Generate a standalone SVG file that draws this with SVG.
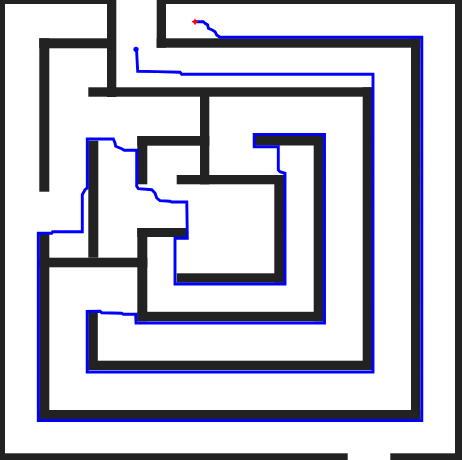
<svg xmlns="http://www.w3.org/2000/svg" width="462" height="460" viewBox="0 0 462 460">
<style>
.w{fill:#222222}
.p{fill:none;stroke:#0000ff;stroke-width:2.9;stroke-linejoin:miter}
</style>
<rect x="0" y="0" width="462" height="460" fill="#ffffff"/>
<g id="walls">
<!-- outer border -->
<rect class="w" x="0" y="0" width="5" height="460"/>
<rect class="w" x="0" y="0" width="116" height="4"/>
<rect class="w" x="157" y="0" width="305" height="4"/>
<rect class="w" x="455" y="0" width="7" height="460"/>
<rect class="w" x="0" y="453.3" width="347.7" height="6.7"/>
<rect class="w" x="390.3" y="453.3" width="71.7" height="6.7"/>
<!-- top-left L and entrance wall -->
<rect class="w" x="107" y="0" width="9.3" height="97"/>
<rect class="w" x="39.3" y="38.3" width="67.7" height="10"/>
<rect class="w" x="39.3" y="38.3" width="10" height="153.4"/>
<!-- big outer U -->
<rect class="w" x="156.7" y="0" width="9.3" height="47.7"/>
<rect class="w" x="156.7" y="38.3" width="263.6" height="9.4"/>
<rect class="w" x="411" y="38.3" width="9.3" height="381"/>
<rect class="w" x="39.3" y="410" width="381" height="9.3"/>
<rect class="w" x="39.3" y="233.3" width="10" height="186"/>
<!-- second U -->
<rect class="w" x="88.3" y="87.3" width="283.4" height="9.4"/>
<rect class="w" x="362.7" y="87.3" width="9.3" height="282.7"/>
<rect class="w" x="88.3" y="360.7" width="283.4" height="9.3"/>
<rect class="w" x="88.3" y="312.5" width="9.5" height="57.5"/>
<!-- left middle -->
<rect class="w" x="88.3" y="140.7" width="10" height="117"/>
<rect class="w" x="39.3" y="257.7" width="108" height="9.6"/>
<!-- inner upper structure -->
<rect class="w" x="137.3" y="136" width="10" height="48.3"/>
<rect class="w" x="137.3" y="136" width="72" height="9.7"/>
<rect class="w" x="200" y="96" width="9.3" height="88.3"/>
<rect class="w" x="176.7" y="175" width="107.6" height="9.3"/>
<rect class="w" x="274.3" y="175" width="10" height="107.7"/>
<rect class="w" x="176.7" y="273.3" width="107.6" height="9.4"/>
<!-- inner lower structure -->
<rect class="w" x="137.3" y="228" width="49.4" height="9"/>
<rect class="w" x="137.3" y="228" width="10" height="93.3"/>
<rect class="w" x="137.3" y="311.8" width="186" height="9.5"/>
<rect class="w" x="313.7" y="135" width="9.6" height="186.3"/>
<rect class="w" x="254.3" y="135" width="69" height="10.5"/>
</g>
<g id="path">
<polyline class="p" points="136.5,49 137.7,71.3 156.7,71.6 180,72.3 181.7,74.3 373,74.3 373,372 87.2,372 87.2,311.5 100,311.2 101.7,312.7 121.7,313.3 123.3,314.3 135.7,314.3 136,323 324.5,323 324.5,134.4 254.2,134.4 254.2,146.7 278.3,146.7 278.3,170 280,171.7 285,173.3 285,284 175,284 175,238.3 187.3,238.3 186.8,202 171.7,202 170,201.3 160,200.7 156.7,198 155,193 151.7,189.7 138.3,188.7 136.7,186.3 136.7,150.3 124.3,150.3 121.7,148.7 115.7,146.3 115,143 113.3,139 87.3,139 87.3,188 85,189.7 82.3,194.7 82.3,231.7 52.7,231.7 51.7,233.3 38.3,233.3 38.3,420.5 421.8,420.5 421.8,37.3 220,37.3 216.7,35 215,31.7 212.3,30 208.3,28.3 207.7,25 205,23.3 203.3,21.7 195,21.7"/>
<circle cx="136" cy="49.3" r="2.6" fill="#0000ff"/>
<circle cx="195" cy="21.7" r="2" fill="#ff0000"/>
<path d="M192 21.7h6M195 18.7v6" stroke="#ff0000" stroke-width="1.2"/>
</g>
</svg>
